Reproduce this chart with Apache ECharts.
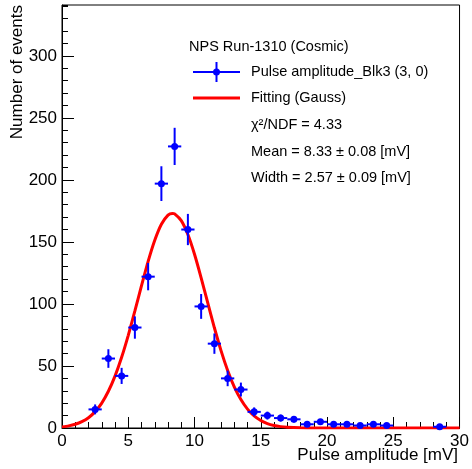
<!DOCTYPE html>
<html>
<head>
<meta charset="utf-8">
<script src="https://cdn.jsdelivr.net/npm/echarts@6/dist/echarts.min.js"></script>
<style>
  html, body { margin: 0; padding: 0; background: #fff; }
  #chart { width: 472px; height: 469px; }
</style>
</head>
<body>
<div id="chart"></div>
<script>
// histogram: bin centres [mV], entries and error bars
var binCenters = [2.5, 3.5, 4.5, 5.5, 6.5, 7.5, 8.5, 9.5, 10.5, 11.5, 12.5, 13.5,
	14.5, 15.5, 16.5, 17.5, 18.5, 19.5, 20.5, 21.5, 22.5, 23.5, 24.5, 28.5];
var counts = [15, 56, 42, 81, 122, 197, 227, 160, 98, 68, 40, 31,
	13, 10, 8, 7, 3, 5, 3, 3, 2, 3, 2, 1];
var countErrors = [4, 7.5, 6.5, 9, 11, 14, 15, 12.6, 10, 8.2, 6.3, 5.6,
	3.6, 3.2, 2.8, 2.6, 1.7, 2.2, 1.7, 1.7, 1.4, 1.7, 1.4, 1];

// gauss fit curve
var fitX = [0, 0.5, 1, 1.5, 2, 2.5, 3, 3.5, 4, 4.5, 5, 5.5, 6, 6.5, 7, 7.5, 8, 8.33, 8.5,
	9, 9.5, 10, 10.5, 11, 11.5, 12, 12.5, 13, 13.5, 14, 14.5, 15, 15.5, 16, 16.5, 17, 18, 19, 20, 30];
var fitY = [0.9, 1.7, 3.0, 5.1, 8.3, 13.2, 20.1, 29.6, 41.8, 57.0, 74.7, 94.4, 114.7, 134.3, 151.3, 164.2, 171.6, 173, 172.6,
	167.2, 156.0, 140.1, 121.1, 100.8, 80.8, 62.4, 46.4, 33.2, 22.9, 15.2, 9.7, 6.0, 3.5, 2.0, 1.1, 0.6, 0.15, 0.03, 0, 0];

var legendLines = [
	'NPS Run-1310 (Cosmic)',
	'Pulse amplitude_Blk3 (3, 0)',
	'Fitting (Gauss)',
	'\u03c7\u00b2/NDF = 4.33',
	'Mean = 8.33 \u00b1 0.08 [mV]',
	'Width = 2.57 \u00b1 0.09 [mV]'
];

var FONT = '"Liberation Sans", Arial, Helvetica, sans-serif';
var BLUE = '#0000ff';
var RED = '#ff0000';

var chart = echarts.init(document.getElementById('chart'), null, { renderer: 'canvas' });

function txt(x, y, s, size, extra)
{
	var el = {
		type: 'text', x: x, y: y, z: 100,
		style: { text: s, fontSize: size, fontFamily: FONT, fill: '#000', align: 'left', verticalAlign: 'middle' }
	};
	if (extra) for (var k in extra) el[k] = extra[k];
	return el;
}

var histData = binCenters.map(function(x, i) { return [x, counts[i], countErrors[i]]; });
var fitData = fitX.map(function(x, i) { return [x, fitY[i]]; });

var axisLbl = { color: '#000', fontSize: 17, fontFamily: FONT };

var option =
{
	animation: false,
	backgroundColor: '#fff',
	grid:
	{
		left: 62, right: 10, top: 5, bottom: 41,
		show: true, borderColor: '#000', borderWidth: 1, backgroundColor: 'transparent'
	},
	xAxis:
	{
		type: 'value', min: 0, max: 30, interval: 5,
		axisLine: { show: true, lineStyle: { color: '#000', width: 1 } },
		axisTick: { show: true, inside: true, length: 11, lineStyle: { color: '#000', width: 1 } },
		minorTick: { show: true, splitNumber: 5, length: 6, lineStyle: { color: '#000', width: 1 } },
		splitLine: { show: false },
		axisLabel: Object.assign({ margin: 5 }, axisLbl)
	},
	yAxis:
	[
		{
			type: 'value', min: 0, max: 341, interval: 50,
			axisLine: { show: true, lineStyle: { color: '#000', width: 1 } },
			axisTick: { show: true, inside: true, length: 12, lineStyle: { color: '#000', width: 1 } },
			splitLine: { show: false },
			axisLabel: Object.assign({ margin: 5, showMaxLabel: false }, axisLbl)
		},
		{
			// minor ticks every 10 events
			type: 'value', min: 0, max: 341, interval: 10, position: 'left',
			axisLine: { show: false },
			axisTick: { show: true, inside: true, length: 6, lineStyle: { color: '#000', width: 1 } },
			splitLine: { show: false },
			axisLabel: { show: false }
		}
	],
	series:
	[
		{
			name: 'Fitting (Gauss)',
			type: 'line',
			data: fitData,
			showSymbol: false,
			smooth: 0.2,
			lineStyle: { color: RED, width: 3 },
			z: 2
		},
		{
			name: 'Pulse amplitude_Blk3 (3, 0)',
			type: 'custom',
			data: histData,
			encode: { x: 0, y: 1 },
			z: 3,
			renderItem: function(params, api)
			{
				var x = api.value(0), y = api.value(1), e = api.value(2);
				var c = api.coord([x, y]);
				var l = api.coord([x - 0.5, y]);
				var r = api.coord([x + 0.5, y]);
				var t = api.coord([x, y + e]);
				var b = api.coord([x, y - e]);
				var st = { stroke: BLUE, lineWidth: 2 };
				return {
					type: 'group',
					children: [
						{ type: 'line', shape: { x1: l[0], y1: l[1], x2: r[0], y2: r[1] }, style: st },
						{ type: 'line', shape: { x1: t[0], y1: t[1], x2: b[0], y2: b[1] }, style: st },
						{ type: 'circle', shape: { cx: c[0], cy: c[1], r: 3.5 }, style: { fill: BLUE } }
					]
				};
			}
		}
	],
	graphic:
	[
		txt(458, 455, 'Pulse amplitude [mV]', 17, null),
		txt(17, 5, 'Number of events', 17, { rotation: Math.PI / 2 }),

		txt(189, 47, legendLines[0], 14.5, null),
		{ type: 'line', z: 100, shape: { x1: 193, y1: 72, x2: 240, y2: 72 }, style: { stroke: BLUE, lineWidth: 2 } },
		{ type: 'line', z: 100, shape: { x1: 216.5, y1: 62, x2: 216.5, y2: 82 }, style: { stroke: BLUE, lineWidth: 2 } },
		{ type: 'circle', z: 100, shape: { cx: 216.5, cy: 72, r: 3.5 }, style: { fill: BLUE } },
		txt(251, 72, legendLines[1], 14.5, null),
		{ type: 'line', z: 100, shape: { x1: 193, y1: 98, x2: 240, y2: 98 }, style: { stroke: RED, lineWidth: 3 } },
		txt(251, 98, legendLines[2], 14.5, null),
		txt(251, 125, legendLines[3], 14.5, null),
		txt(251, 152, legendLines[4], 14.5, null),
		txt(251, 178, legendLines[5], 14.5, null)
	]
};

// right-align the axis titles
option.graphic[0].style.align = 'right';
option.graphic[1].style.align = 'right';

chart.setOption(option);
</script>
</body>
</html>
